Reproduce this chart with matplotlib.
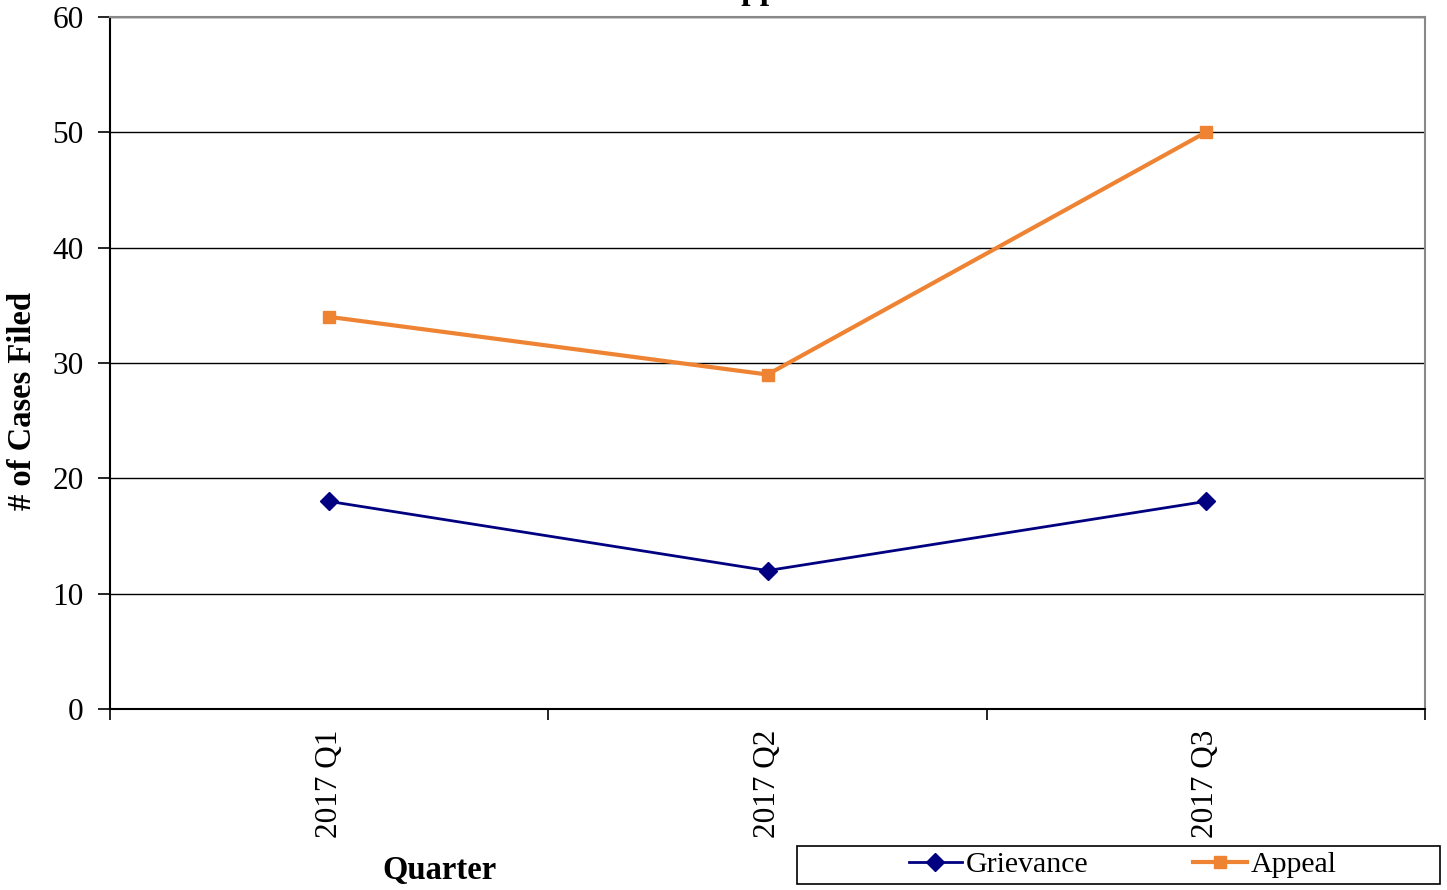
import matplotlib
matplotlib.use("Agg")
import matplotlib.pyplot as plt
from matplotlib.patches import Rectangle
from matplotlib.ticker import FixedLocator, NullFormatter

quarters = ["2017 Q1", "2017 Q2", "2017 Q3"]
grievance = [18, 12, 18]
appeal = [34, 29, 50]
y_ticks = [0, 10, 20, 30, 40, 50, 60]

plt.rcParams["font.family"] = ["Liberation Serif", "DejaVu Serif"]

W, H = 1447, 890
fig = plt.figure(figsize=(W / 100, H / 100), dpi=100)
ax = fig.add_axes([110 / W, 1 - 709 / H, (1425 - 110) / W, (709 - 17) / H])

x = list(range(len(quarters)))
ax.plot(x, grievance, color="#000080", lw=2, marker="D", ms=9.5,
        label="Grievance", zorder=3)
ax.plot(x, appeal, color="#EE8433", lw=3, marker="s", ms=9,
        label="Appeal", zorder=3)

ax.set_xlim(-0.5, len(quarters) - 0.5)
ax.set_ylim(0, 60)
ax.set_yticks(y_ticks)
ax.tick_params(axis="y", labelsize=22.5, length=9, width=1.2, direction="out",
               pad=10)
ax.yaxis.grid(True, color="black", lw=1)
ax.set_axisbelow(True)

# Category boundaries carry the tick marks; labels sit at the category centres
ax.xaxis.set_major_locator(FixedLocator([i - 0.5 for i in range(len(quarters) + 1)]))
ax.xaxis.set_major_formatter(NullFormatter())
ax.xaxis.set_minor_locator(FixedLocator(x))
ax.set_xticklabels(quarters, minor=True, rotation=90, fontsize=22.5)
ax.tick_params(axis="x", which="major", length=8, width=1.2, direction="out")
ax.tick_params(axis="x", which="minor", length=0, pad=15)

for side in ("top", "right"):
    ax.spines[side].set_color("#888888")
    ax.spines[side].set_linewidth(1.5)
for side in ("left", "bottom"):
    ax.spines[side].set_color("black")
    ax.spines[side].set_linewidth(1.5)

ax.set_ylabel("# of Cases Filed", fontsize=23.5, fontweight="bold")
ax.yaxis.set_label_coords(-72 / (1425 - 110), (709 - 401) / (709 - 17))
fig.text(440 / W, 1 - 870 / H, "Quarter", fontsize=23.5, fontweight="bold",
         ha="center", va="center")
# Chart title, running off the top edge of the canvas
fig.text(775 / W, 1 + 0.5 / H, "Appeals", fontsize=24, fontweight="bold",
         ha="center", va="baseline")

# Legend: frame drawn as its own box, entries centred inside it
box = (797 / W, 1 - 884 / H, (1440 - 797) / W, 38 / H)
fig.add_artist(Rectangle(box[:2], box[2], box[3], transform=fig.transFigure,
                         fill=False, edgecolor="black", lw=1.2))
fig.legend(loc="center", ncol=2,
           bbox_to_anchor=(box[0] + box[2] / 2 + 4 / W, box[1] + box[3] / 2),
           fontsize=21.5, frameon=False, borderpad=0, handlelength=1.8,
           handletextpad=0.12, columnspacing=3.5)

fig.savefig("out.png", dpi=100)
